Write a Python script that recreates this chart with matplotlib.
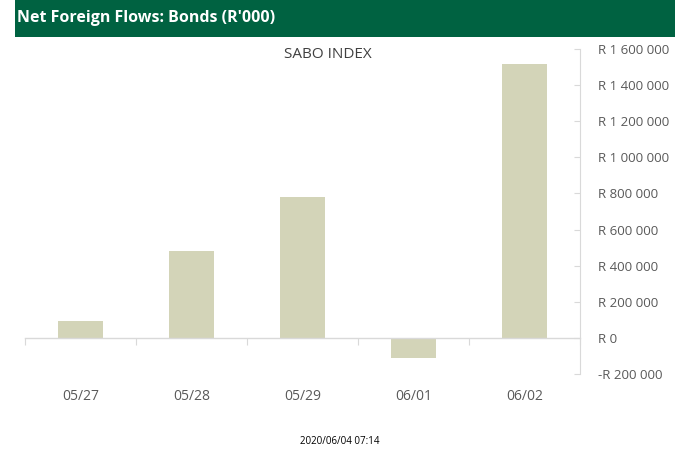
import matplotlib
matplotlib.use("Agg")
import matplotlib.pyplot as plt
from matplotlib.ticker import FuncFormatter, FixedLocator
import matplotlib.transforms as mtrans

categories = ["05/27", "05/28", "05/29", "06/01", "06/02"]
values = [93000, 482000, 780000, -113000, 1515000]
yticks = [-200000, 0, 200000, 400000, 600000, 800000, 1000000, 1200000, 1400000, 1600000]

fig = plt.figure(figsize=(6.88, 4.55), dpi=100)
fig.patch.set_facecolor("white")

# header band
fig.patches.append(plt.Rectangle((14.5/688, 1 - 37/455), (675-14.5)/688, 37/455,
                                 transform=fig.transFigure, facecolor="#006241",
                                 edgecolor="none", zorder=0))
fig.text(17/688, 1 - 18/455, "Net Foreign Flows: Bonds (R'000)", color="white",
         fontsize=11.5, fontweight="bold", family="Open Sans", va="center", ha="left")

ax = fig.add_axes([25/688, (455-374)/455, 555/688, 325/455])
x = list(range(len(categories)))
ax.bar(x, values, width=0.4, color="#d3d4b8", zorder=2)
ax.set_xlim(-0.5, len(categories) - 0.5)
ax.set_ylim(-200000, 1600000)

for s in ["top", "left"]:
    ax.spines[s].set_visible(False)
ax.spines["right"].set_color("#d9d9d9")
ax.spines["bottom"].set_position(("data", 0))
ax.spines["bottom"].set_color("#d9d9d9")
ax.spines["bottom"].set_linewidth(1.0)

ax.yaxis.tick_right()
ax.yaxis.set_major_locator(FixedLocator(yticks))

def rfmt(v, pos):
    s = f"{abs(int(round(v))):,}".replace(",", " ")
    return ("-R " if v < 0 else "R ") + s

ax.yaxis.set_major_formatter(FuncFormatter(rfmt))
ax.tick_params(axis="y", direction="in", length=4, color="#d9d9d9", pad=13,
               labelsize=9.5, labelcolor="#595959")
for lab in ax.get_yticklabels():
    lab.set_family("Open Sans")

bounds = [i - 0.5 for i in range(len(categories) + 1)]
ax.set_xticks(bounds)
ax.set_xticklabels([])
ax.tick_params(axis="x", direction="out", length=5, color="#d9d9d9")

trans = mtrans.blended_transform_factory(ax.transData, ax.transAxes)
for i, c in enumerate(categories):
    ax.text(i, -(397-374)/325, c, transform=trans, ha="center", va="center",
            fontsize=10, color="#595959", family="Open Sans")

fig.text(328/688, 1 - 54/455, "SABO INDEX", ha="center", va="center",
         fontsize=11, color="#404040", family="Open Sans")
fig.text(340/688, 1 - 441/455, "2020/06/04 07:14", ha="center", va="center",
         fontsize=7, color="black", family="Open Sans")

fig.savefig("out.png", dpi=100)
